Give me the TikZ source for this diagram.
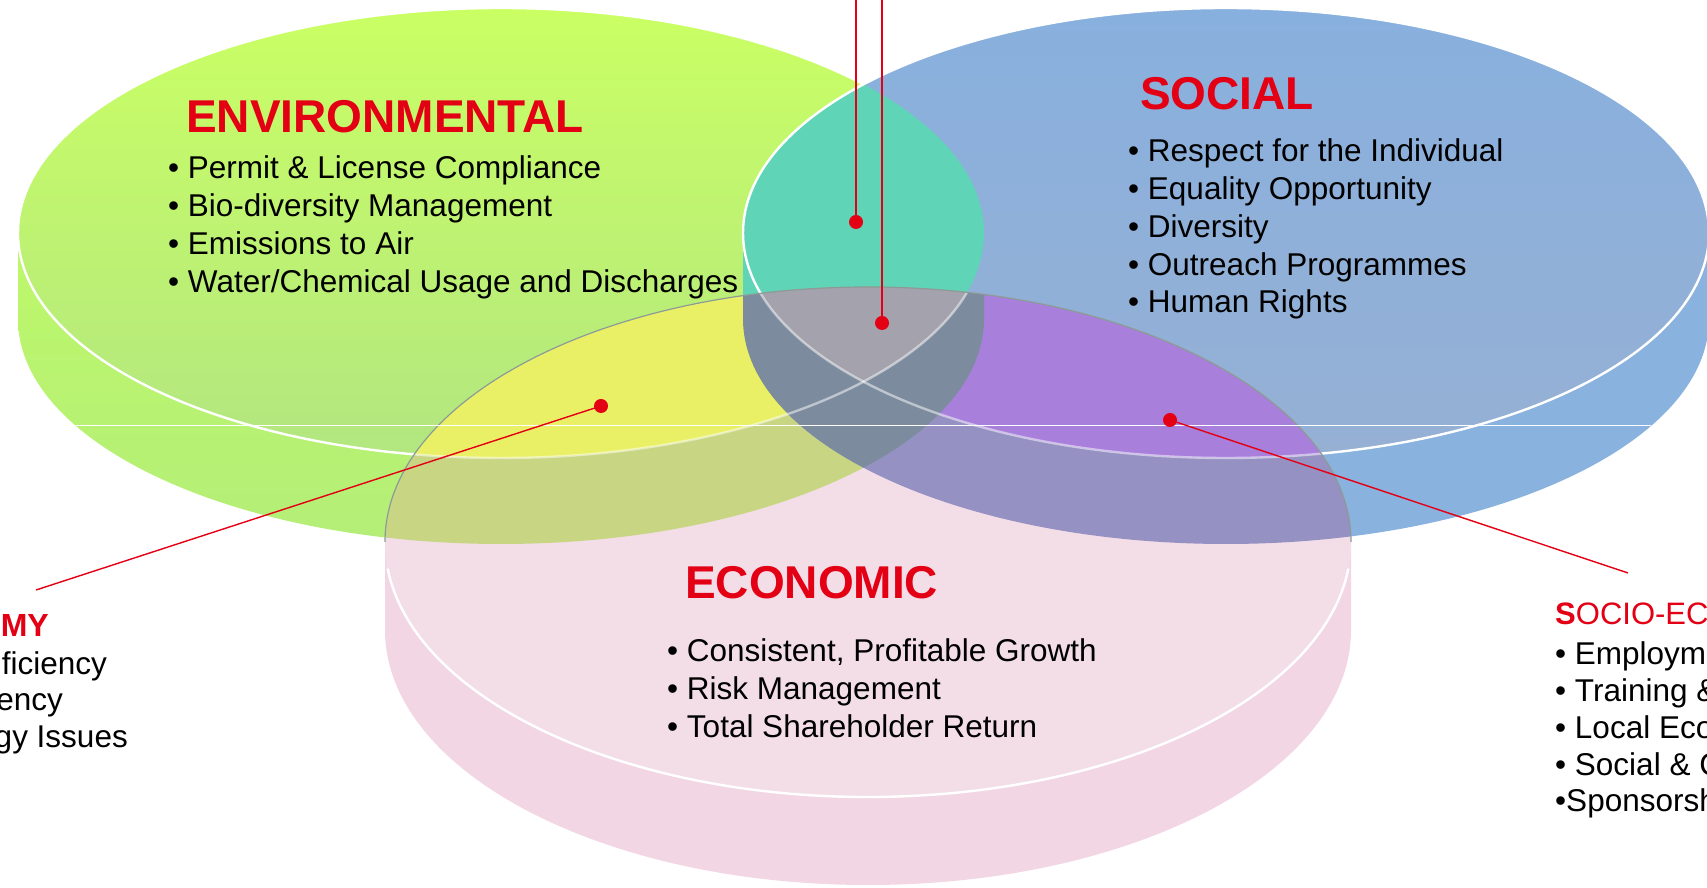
\documentclass[tikz,border=0pt]{standalone}
\usepackage{fontspec}
\setmainfont{Liberation Sans}
\usepackage{tikz}
\usetikzlibrary{positioning}

\definecolor{tbred}{RGB}{228,0,20}
\definecolor{envhi}{RGB}{202,255,100}
\definecolor{envlo}{RGB}{178,230,128}
\definecolor{envsidehi}{RGB}{196,255,96}
\definecolor{envsidelo}{RGB}{180,238,120}
\definecolor{sochi}{RGB}{136,176,222}
\definecolor{soclo}{RGB}{150,176,212}
\definecolor{socsidec}{RGB}{138,178,222}
\definecolor{ecotopc}{RGB}{243,222,232}
\definecolor{ecosidec}{RGB}{242,214,228}
\definecolor{envsoc}{RGB}{96,212,182}
\definecolor{envecotop}{RGB}{234,240,102}
\definecolor{envecoside}{RGB}{200,214,132}
\definecolor{socecotop}{RGB}{168,128,220}
\definecolor{socecoside}{RGB}{150,145,195}
\definecolor{alltop}{RGB}{164,162,172}
\definecolor{allside}{RGB}{124,140,158}
\definecolor{ecoedge}{RGB}{140,155,150}

% disc outlines (side = whole silhouette, top = upper face)
\newcommand{\envSide}{(18,655) -- (18,569) arc[start angle=180, end angle=360, x radius=483, y radius=225] -- (984,655) arc[start angle=0, end angle=180, x radius=483, y radius=225] -- cycle}
\newcommand{\envTop}{(501,655) ellipse [x radius=483, y radius=225]}
\newcommand{\socSide}{(743,655) -- (743,569) arc[start angle=180, end angle=360, x radius=483, y radius=225] -- (1709,655) arc[start angle=0, end angle=180, x radius=483, y radius=225] -- cycle}
\newcommand{\socTop}{(1226,655) ellipse [x radius=483, y radius=225]}
\newcommand{\ecoSide}{(385,346) -- (385,258) arc[start angle=180, end angle=360, x radius=483, y radius=255] -- (1351,346) arc[start angle=0, end angle=180, x radius=483, y radius=255] -- cycle}
\newcommand{\ecoTop}{(868,346) ellipse [x radius=483, y radius=255]}

\begin{document}
\begin{tikzpicture}[x=1pt, y=1pt,
    heading/.style={anchor=base west, inner sep=0pt, text=tbred, font=\fontsize{46}{55}\selectfont\bfseries},
    item/.style={anchor=base west, inner sep=0pt, font=\fontsize{31.5}{38}\selectfont},
    rim/.style={draw=white, line width=2.4pt},
    dot/.style={circle, fill=tbred, inner sep=0pt, minimum size=14pt},
    leader/.style={draw=tbred, line width=1.4pt}]
    \useasboundingbox (0,0) rectangle (1707,888);

    % environmental disc
    \shade[top color=envsidehi, bottom color=envsidelo] \envSide;
    \shade[top color=envhi, bottom color=envlo] \envTop;
    \draw[rim] \envTop;

    % social disc
    \fill[socsidec] \socSide;
    \shade[top color=sochi, bottom color=soclo] \socTop;
    \begin{scope}
        \clip \envTop;
        \fill[envsoc] \socSide;
    \end{scope}
    \draw[rim] \socTop;

    % economic disc and its overlaps
    \fill[ecosidec] \ecoSide;
    \fill[ecotopc] \ecoTop;
    \begin{scope}
        \clip \ecoSide;
        \fill[envecoside] \envSide;
        \fill[socecoside] \socSide;
        \begin{scope}
            \clip \ecoTop;
            \begin{scope}
                \clip \envTop;
                \fill[envecotop] \ecoTop;
            \end{scope}
            \begin{scope}
                \clip \socTop;
                \fill[socecotop] \ecoTop;
            \end{scope}
        \end{scope}
        \begin{scope}
            \clip \envSide;
            \fill[allside] \socSide;
            \clip \envTop;
            \clip \socTop;
            \clip \ecoTop;
            \fill[alltop] \ecoTop;
        \end{scope}
        % rear rims show faintly through
        \draw[rim, opacity=0.5] \envTop;
        \draw[rim, opacity=0.5] \socTop;
    \end{scope}
    \draw[rim] (868,346) ++(186:483 and 255) arc[start angle=186, end angle=354, x radius=483, y radius=255];
    \draw[ecoedge, line width=1.2pt] (1351,346) arc[start angle=0, end angle=180, x radius=483, y radius=255];

    \draw[white, line width=1pt] (76,462) -- (1651,462);

    % leaders
    \node[dot] (envSocDot) at (856,666) {};
    \node[dot] (allDot) at (882,565) {};
    \node[dot] (envEcoDot) at (601,482) {};
    \node[dot] (socEcoDot) at (1170,468) {};
    \coordinate (envSocTop) at (856,888);
    \coordinate (allTop) at (882,888);
    \coordinate (envEcoEnd) at (36,298);
    \coordinate (socEcoEnd) at (1628,315);
    \draw[leader] (envSocTop) -- (envSocDot.center);
    \draw[leader] (allTop) -- (allDot.center);
    \draw[leader] (envEcoEnd) -- (envEcoDot.center);
    \draw[leader] (socEcoEnd) -- (socEcoDot.center);

    % headings and bullet lists
    \node[heading] (envHead) at (186,755) {ENVIRONMENTAL};
    \node[heading] (socHead) at (1140,778) {SOCIAL};
    \node[heading] (ecoHead) at (685,289) {ECONOMIC};

    \foreach \txt [count=\i] in {Permit \& License Compliance, Bio-diversity Management, Emissions to Air, Water/Chemical Usage and Discharges}
        \node[item] (env\i) at (168, {709-38*(\i-1)}) {• \txt};
    \foreach \txt [count=\i] in {Respect for the Individual, Equality Opportunity, Diversity, Outreach Programmes, Human Rights}
        \node[item] (soc\i) at (1128, {726-37.75*(\i-1)}) {• \txt};
    \foreach \txt [count=\i] in {{Consistent, Profitable Growth}, Risk Management, Total Shareholder Return}
        \node[item] (eco\i) at (667, {226-38*(\i-1)}) {• \txt};

    % side labels
    \node[anchor=base east, inner sep=0pt, text=tbred, font=\fontsize{32}{38}\selectfont\bfseries] (effHead) at (49,251) {MY};
    \foreach \txt/\xx/\yy [count=\i] in {ficiency/107/213, ency/63/177, gy Issues/128/140}
        \node[item, anchor=base east] (eff\i) at (\xx,\yy) {\txt};
    \node[item, text=tbred, font=\fontsize{31}{38}\selectfont] (socEcoHead) at (1555,263) {\textbf{S}OCIO-EC};
    \foreach \txt [count=\i] in {• Employm, • Training \&, • Local Eco, • Social \& C, •Sponsorsh}
        \node[item] (socEco\i) at (1555, {223-36.7*(\i-1)}) {\txt};
\end{tikzpicture}
\end{document}
